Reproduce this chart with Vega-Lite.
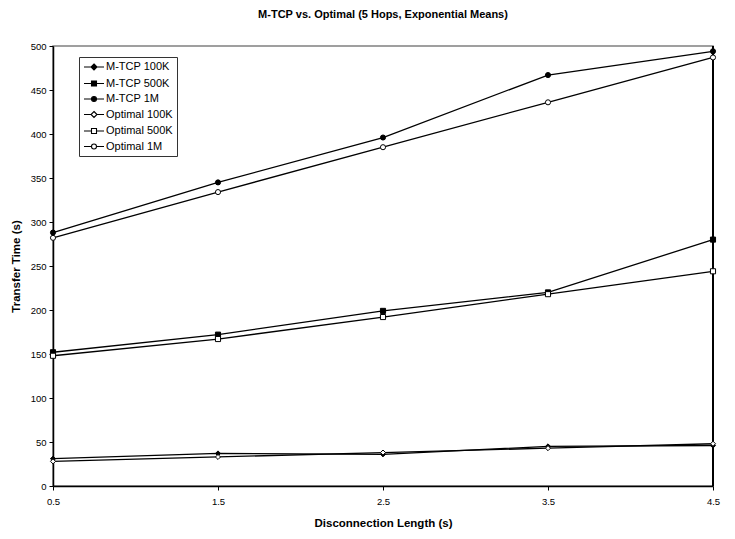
{
  "$schema": "https://vega.github.io/schema/vega-lite/v6.json",
  "width": 660,
  "height": 440,
  "autosize": {"type": "none"},
  "padding": {"left": 53, "top": 46, "right": 22, "bottom": 53},
  "background": "white",
  "title": {
    "text": "M-TCP vs. Optimal (5 Hops, Exponential Means)",
    "font": "Liberation Sans",
    "fontSize": 11,
    "fontWeight": "bold",
    "color": "black",
    "anchor": "middle",
    "offset": 21
  },
  "config": {
    "view": {"stroke": "#808080", "strokeWidth": 1.5},
    "axis": {
      "labelFont": "Liberation Sans",
      "labelFontSize": 9.5,
      "labelColor": "black",
      "titleFont": "Liberation Sans",
      "titleFontSize": 11.5,
      "titleFontWeight": "bold",
      "titleColor": "black",
      "domainColor": "black",
      "domainWidth": 1.5,
      "tickColor": "black",
      "tickWidth": 1,
      "tickSize": 4,
      "grid": false
    }
  },
  "data": {
    "values": [
      {"series": "M-TCP 100K", "len": 0.5, "t": 31},
      {"series": "M-TCP 100K", "len": 1.5, "t": 37},
      {"series": "M-TCP 100K", "len": 2.5, "t": 36},
      {"series": "M-TCP 100K", "len": 3.5, "t": 45},
      {"series": "M-TCP 100K", "len": 4.5, "t": 46},
      {"series": "M-TCP 500K", "len": 0.5, "t": 152},
      {"series": "M-TCP 500K", "len": 1.5, "t": 172},
      {"series": "M-TCP 500K", "len": 2.5, "t": 199},
      {"series": "M-TCP 500K", "len": 3.5, "t": 220},
      {"series": "M-TCP 500K", "len": 4.5, "t": 280},
      {"series": "M-TCP 1M", "len": 0.5, "t": 288},
      {"series": "M-TCP 1M", "len": 1.5, "t": 345},
      {"series": "M-TCP 1M", "len": 2.5, "t": 396},
      {"series": "M-TCP 1M", "len": 3.5, "t": 467},
      {"series": "M-TCP 1M", "len": 4.5, "t": 494},
      {"series": "Optimal 100K", "len": 0.5, "t": 28},
      {"series": "Optimal 100K", "len": 1.5, "t": 33},
      {"series": "Optimal 100K", "len": 2.5, "t": 38},
      {"series": "Optimal 100K", "len": 3.5, "t": 43},
      {"series": "Optimal 100K", "len": 4.5, "t": 48},
      {"series": "Optimal 500K", "len": 0.5, "t": 148},
      {"series": "Optimal 500K", "len": 1.5, "t": 167},
      {"series": "Optimal 500K", "len": 2.5, "t": 192},
      {"series": "Optimal 500K", "len": 3.5, "t": 218},
      {"series": "Optimal 500K", "len": 4.5, "t": 244},
      {"series": "Optimal 1M", "len": 0.5, "t": 282},
      {"series": "Optimal 1M", "len": 1.5, "t": 334},
      {"series": "Optimal 1M", "len": 2.5, "t": 385},
      {"series": "Optimal 1M", "len": 3.5, "t": 436},
      {"series": "Optimal 1M", "len": 4.5, "t": 487}
    ]
  },
  "encoding": {
    "x": {
      "field": "len",
      "type": "quantitative",
      "scale": {"domain": [0.5, 4.5], "nice": false, "zero": false},
      "axis": {
        "title": "Disconnection Length (s)",
        "values": [0.5, 1.5, 2.5, 3.5, 4.5],
        "format": ".1f",
        "labelPadding": 6,
        "titlePadding": 12,
        "labelFlush": false
      }
    },
    "y": {
      "field": "t",
      "type": "quantitative",
      "scale": {"domain": [0, 500], "nice": false},
      "axis": {
        "title": "Transfer Time (s)",
        "values": [0, 50, 100, 150, 200, 250, 300, 350, 400, 450, 500],
        "labelPadding": 3,
        "titlePadding": 9
      }
    }
  },
  "layer": [
    {
      "mark": {"type": "rule", "stroke": "black", "strokeWidth": 1.5},
      "encoding": {
        "x": {"datum": 4.5, "type": "quantitative"},
        "y": {"datum": 0, "type": "quantitative"},
        "y2": {"datum": 500}
      }
    },
    {
      "mark": {"type": "line", "stroke": "black", "strokeWidth": 1.3},
      "encoding": {"detail": {"field": "series"}}
    },
    {
      "mark": {"type": "point", "stroke": "black", "strokeWidth": 1, "size": 26, "opacity": 1},
      "encoding": {
        "shape": {
          "field": "series",
          "type": "nominal",
          "scale": {
            "domain": ["M-TCP 100K", "M-TCP 500K", "M-TCP 1M", "Optimal 100K", "Optimal 500K", "Optimal 1M"],
            "range": ["diamond", "square", "circle", "diamond", "square", "circle"]
          },
          "legend": null
        },
        "fill": {
          "field": "series",
          "type": "nominal",
          "scale": {
            "domain": ["M-TCP 100K", "M-TCP 500K", "M-TCP 1M", "Optimal 100K", "Optimal 500K", "Optimal 1M"],
            "range": ["black", "black", "black", "white", "white", "white"]
          },
          "legend": null
        }
      }
    },
    {
      "mark": {"type": "point", "stroke": "black", "strokeWidth": 1, "size": 26, "opacity": 0},
      "encoding": {
        "shape": {
          "field": "series",
          "type": "nominal",
          "scale": {
            "domain": ["M-TCP 100K", "M-TCP 500K", "M-TCP 1M", "Optimal 100K", "Optimal 500K", "Optimal 1M"],
            "range": [
              "M-2,0H-0.6M0.6,0H2M0,-0.6L0.6,0L0,0.6L-0.6,0Z",
              "M-2,0H-0.5M0.5,0H2M-0.5,-0.5H0.5V0.5H-0.5Z",
              "M-2,0H-0.5M0.5,0H2M0.5,0A0.5,0.5 0 1,1 -0.5,0A0.5,0.5 0 1,1 0.5,0Z",
              "M-2,0H-0.6M0.6,0H2M0,-0.6L0.6,0L0,0.6L-0.6,0Z",
              "M-2,0H-0.5M0.5,0H2M-0.5,-0.5H0.5V0.5H-0.5Z",
              "M-2,0H-0.5M0.5,0H2M0.5,0A0.5,0.5 0 1,1 -0.5,0A0.5,0.5 0 1,1 0.5,0Z"
            ]
          },
          "legend": {
            "title": null,
            "orient": "none",
            "legendX": 26,
            "legendY": 11,
            "padding": 4,
            "rowPadding": 4.5,
            "strokeColor": "#333333",
            "fillColor": "white",
            "symbolSize": 100,
            "symbolOffset": 5,
            "symbolStrokeColor": "black",
            "symbolStrokeWidth": 1,
            "symbolOpacity": 1,
            "labelFont": "Liberation Sans",
            "labelFontSize": 11,
            "labelColor": "black",
            "labelOffset": 6,
            "encode": {
              "symbols": {
                "update": {
                  "stroke": {"value": "black"},
                  "strokeWidth": {"value": 1.1},
                  "opacity": {"value": 1},
                  "strokeOpacity": {"value": 1},
                  "fillOpacity": {"value": 1}
                }
              }
            }
          }
        },
        "fill": {
          "field": "series",
          "type": "nominal",
          "scale": {
            "domain": ["M-TCP 100K", "M-TCP 500K", "M-TCP 1M", "Optimal 100K", "Optimal 500K", "Optimal 1M"],
            "range": ["black", "black", "black", "white", "white", "white"]
          },
          "legend": {
            "title": null,
            "orient": "none",
            "legendX": 26,
            "legendY": 11,
            "padding": 4,
            "rowPadding": 4.5,
            "strokeColor": "#333333",
            "fillColor": "white",
            "symbolSize": 100,
            "symbolOffset": 5,
            "symbolStrokeColor": "black",
            "symbolStrokeWidth": 1,
            "symbolOpacity": 1,
            "labelFont": "Liberation Sans",
            "labelFontSize": 11,
            "labelColor": "black",
            "labelOffset": 6,
            "encode": {
              "symbols": {
                "update": {
                  "stroke": {"value": "black"},
                  "strokeWidth": {"value": 1.1},
                  "opacity": {"value": 1},
                  "strokeOpacity": {"value": 1},
                  "fillOpacity": {"value": 1}
                }
              }
            }
          }
        }
      }
    }
  ],
  "resolve": {
    "scale": {"shape": "independent", "fill": "independent"}
  }
}
